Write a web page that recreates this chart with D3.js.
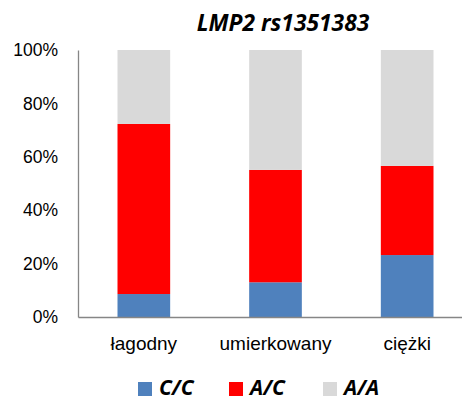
<!DOCTYPE html>
<meta charset="utf-8">
<style>
body { margin: 0; background: #fff; }
svg { display: block; font-family: "Open Sans", sans-serif; }
</style>
<svg width="462" height="401"></svg>
<script src="https://d3js.org/d3.v7.min.js"></script>
<script>

const categories = ["łagodny", "umierkowany", "ciężki"];
const genotypes = ["C/C", "A/C", "A/A"];
const cc = [8.6, 13.0, 23.2];
const ac = [63.7, 42.1, 33.4];
const aa = [27.7, 44.9, 43.4];
const yTicks = [0, 20, 40, 60, 80, 100];
const colors = ["#4f81bd", "#ff0000", "#d9d9d9"];

const svg = d3.select("svg");

const rows = categories.map((c, i) => ({ cat: c, "C/C": cc[i], "A/C": ac[i], "A/A": aa[i] }));
const stacked = d3.stack().keys(genotypes)(rows);

const x = d3.scaleBand().domain(categories).range([78, 473]).paddingInner(0.6).paddingOuter(0.3);
const y = d3.scaleLinear().domain([0, 100]).range([317, 50]);

// bars
svg.append("g")
  .selectAll("g")
  .data(stacked)
  .join("g")
    .attr("fill", (d, i) => colors[i])
  .selectAll("rect")
  .data(d => d)
  .join("rect")
    .attr("x", d => x(d.data.cat))
    .attr("width", x.bandwidth())
    .attr("y", d => y(d[1]))
    .attr("height", d => y(d[0]) - y(d[1]));

// y axis
const yAxis = svg.append("g")
  .attr("transform", "translate(78,0)")
  .call(d3.axisLeft(y).tickValues(yTicks).tickSize(0).tickPadding(20).tickFormat(d => d + "%"));
yAxis.select(".domain").attr("stroke", "#868686").attr("stroke-width", 1.3);
yAxis.selectAll("text").attr("font-size", 17.5).attr("fill", "#000");

// x axis
const xAxis = svg.append("g")
  .attr("transform", "translate(0,317)")
  .call(d3.axisBottom(x).tickSize(0).tickPadding(20));
xAxis.select(".domain").attr("stroke", "#868686").attr("stroke-width", 1.3);
xAxis.selectAll("text").attr("font-size", 19).attr("fill", "#000");

// title
svg.append("text")
  .attr("x", 283)
  .attr("y", 31)
  .attr("text-anchor", "middle")
  .attr("font-size", 22.8)
  .attr("font-weight", "bold")
  .attr("font-style", "italic")
  .text("LMP2 rs1351383");

// legend
const legendX = [138, 229, 323];
const legend = svg.append("g")
  .selectAll("g")
  .data(genotypes)
  .join("g")
    .attr("transform", (d, i) => `translate(${legendX[i]},382)`);
legend.append("rect")
  .attr("width", 14)
  .attr("height", 14)
  .attr("fill", (d, i) => colors[i]);
legend.append("text")
  .attr("x", 21)
  .attr("y", 13)
  .attr("font-size", 21)
  .attr("font-weight", "bold")
  .attr("font-style", "italic")
  .text(d => d);

</script>
